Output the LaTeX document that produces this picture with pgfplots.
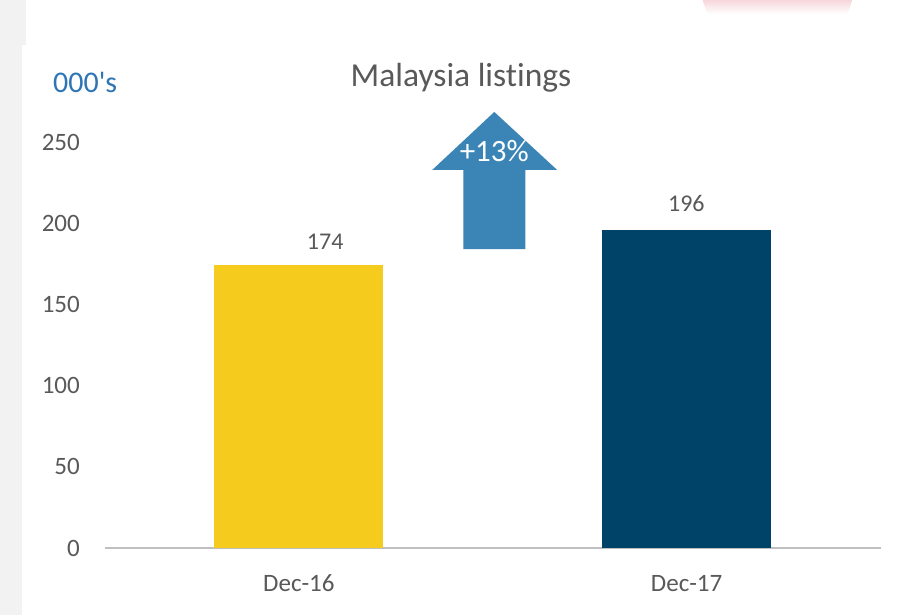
\documentclass[border=0pt]{standalone}
\usepackage{pgfplots}
\pgfplotsset{compat=1.18}
\usepackage{fontspec}
\setmainfont[Ligatures={TeXOff,NoCommon}]{Carlito}
\definecolor{bggrey}{RGB}{242,242,242}
\definecolor{txtgrey}{RGB}{89,89,89}
\definecolor{axgrey}{RGB}{191,191,191}
\definecolor{ybar}{RGB}{245,204,30}
\definecolor{nbar}{RGB}{0,67,104}
\definecolor{arrowblue}{RGB}{58,132,182}
\definecolor{unitblue}{RGB}{46,117,182}
\definecolor{pinkish}{RGB}{247,214,219}
\begin{document}
\begin{tikzpicture}[x=1pt,y=1pt]
\useasboundingbox (0,0) rectangle (897,615);
\fill[bggrey] (0,0) rectangle (897,615);
\fill[white] (22,0) rectangle (897,570);
\fill[white] (26,570) rectangle (897,615);
\shade[top color=pinkish, bottom color=white] (703,615) -- (852,615) .. controls (850,607) .. (847,601) -- (708,601) .. controls (705,607) .. (703,615) -- cycle;
\begin{axis}[
  at={(105pt,67pt)}, anchor=south west,
  scale only axis, width=775.5pt, height=406pt,
  xmin=-0.5, xmax=1.5, ymin=0, ymax=250,
  clip=false,
  axis x line*=bottom, axis y line*=left,
  x axis line style={draw=axgrey, line width=1.2pt, -},
  y axis line style={draw=none},
  major tick length=0pt,
  xtick={0,1}, xticklabels={Dec-16,Dec-17},
  ytick={0,50,100,150,200,250},
  /pgf/number format/assume math mode=true,
  xticklabel style={font=\fontsize{25}{30}\selectfont, text=txtgrey, anchor=base, yshift=-44pt},
  yticklabel style={font=\fontsize{25}{30}\selectfont, text=txtgrey, anchor=east, inner sep=0pt, xshift=-25pt},
]
\addplot[ybar, bar width=169pt, fill=ybar, draw=none, bar shift=0pt] coordinates {(0,174)};
\addplot[ybar, bar width=169pt, fill=nbar, draw=none, bar shift=0pt] coordinates {(1,196)};
\node[anchor=base, text=txtgrey, font=\fontsize{24}{28}\selectfont] at (axis cs:0.068,174) [yshift=16pt] {174};
\node[anchor=base, text=txtgrey, font=\fontsize{24}{28}\selectfont] at (axis cs:0,196) [xshift=387.5pt, yshift=18pt] {196};
\fill[arrowblue] (axis cs:0.424,184.1) -- (axis cs:0.584,184.1) -- (axis cs:0.584,232.8) -- (axis cs:0.666,232.8) -- (axis cs:0.504,268.5) -- (axis cs:0.344,232.8) -- (axis cs:0.424,232.8) -- cycle;
\node[anchor=center, text=white, font=\fontsize{31}{36}\selectfont] at (axis cs:0.504,244.5) {+13\%};
\end{axis}
\node[anchor=base, text=txtgrey, font=\fontsize{33.5}{40}\selectfont] at (461,528) {Malaysia listings};
\node[anchor=base west, inner sep=0pt, text=unitblue, font=\fontsize{30}{36}\selectfont] at (53,522) {000's};
\end{tikzpicture}
\end{document}
